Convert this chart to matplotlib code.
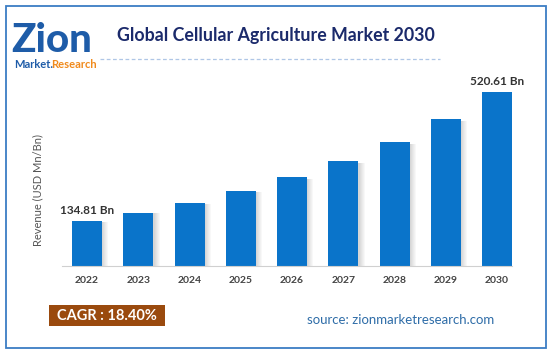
import matplotlib
matplotlib.use("Agg")
import matplotlib.pyplot as plt
from matplotlib.patches import Rectangle
from matplotlib.lines import Line2D

plt.rcParams['font.family'] = ['Lato', 'DejaVu Sans']

years = ["2022", "2023", "2024", "2025", "2026", "2027", "2028", "2029", "2030"]
revenue = [134.81, 159.6, 189.0, 223.8, 265.0, 313.7, 371.4, 439.8, 520.61]
labels = {0: "134.81 Bn", 8: "520.61 Bn"}
title = "Global Cellular Agriculture Market 2030"
ylabel = "Revenue (USD Mn/Bn)"
cagr = "CAGR : 18.40%"
source = "source: zionmarketresearch.com"

W, H = 550, 355
fig = plt.figure(figsize=(5.5, 3.55), dpi=100)
fig.patch.set_facecolor("white")

def fx(x): return x / W
def fy(y): return 1 - y / H

# frame
fig.add_artist(Rectangle((fx(6), fy(348)), fx(540), (342) / H, transform=fig.transFigure,
                         fill=False, edgecolor="#3C7DC4", linewidth=1.3))

ax = fig.add_axes([fx(62), fy(266), fx(450), (266 - 70) / H])
x = list(range(len(years)))
bw = 0.59
# shadow
for xi, v in zip(x, revenue):
    for k in range(6):
        ax.bar(xi + bw / 2 + 0.02 * k + 0.01, v * 0.985, width=0.02, bottom=0,
               color="#7a7a7a", alpha=0.3 * (1 - k / 6), linewidth=0, zorder=1)
ax.bar(x, revenue, width=bw, color="#0A74CA", zorder=2)
for i, t in labels.items():
    ax.text(x[i], revenue[i] + 14, t, ha="center", va="bottom", fontsize=8.5,
            fontweight="bold", color="#333333")
ax.set_xlim(-0.49, 8.29)
ax.set_ylim(0, 586)
ax.set_xticks(x)
ax.set_xticklabels(years, fontsize=7.5, fontweight="bold", color="#444444")
ax.tick_params(axis="x", length=0, pad=7)
ax.set_yticks([])
for s in ["top", "right", "left"]:
    ax.spines[s].set_visible(False)
ax.spines["bottom"].set_color("#d0d0d0")
ax.set_facecolor("none")

fig.text(fx(38), fy(190), ylabel, rotation=90, ha="center", va="center",
         fontsize=8, color="#555555")

# title
fig.text(fx(117), fy(35), title, ha="left", va="center", fontsize=12.8,
         fontweight="bold", color="#1B2A6B")
fig.add_artist(Line2D([fx(100), fx(440)], [fy(59), fy(59)], transform=fig.transFigure,
                      color="#AFC6E6", linestyle=(0, (3, 2)), linewidth=0.9))

# logo
fig.text(fx(11), fy(40), "Zion", ha="left", va="center", fontsize=29,
         fontweight="black", color="#1E5CA8")
fig.text(fx(14), fy(65), "Market.", ha="left", va="center", fontsize=8,
         fontweight="bold", color="#1E5CA8")
fig.text(fx(51), fy(65), "Research", ha="left", va="center", fontsize=8,
         fontweight="bold", color="#F08A1C")

# CAGR box
fig.add_artist(Rectangle((fx(49), fy(326)), fx(116), 21 / H, transform=fig.transFigure,
                         facecolor="#9A4A0E", edgecolor="none"))
fig.text(fx(107), fy(316), cagr, ha="center", va="center", fontsize=10.5,
         fontweight="bold", color="white")

fig.text(fx(401), fy(320), source, ha="center", va="center", fontsize=9.5,
         color="#2F6DA8")

fig.savefig("out.png", dpi=100)
